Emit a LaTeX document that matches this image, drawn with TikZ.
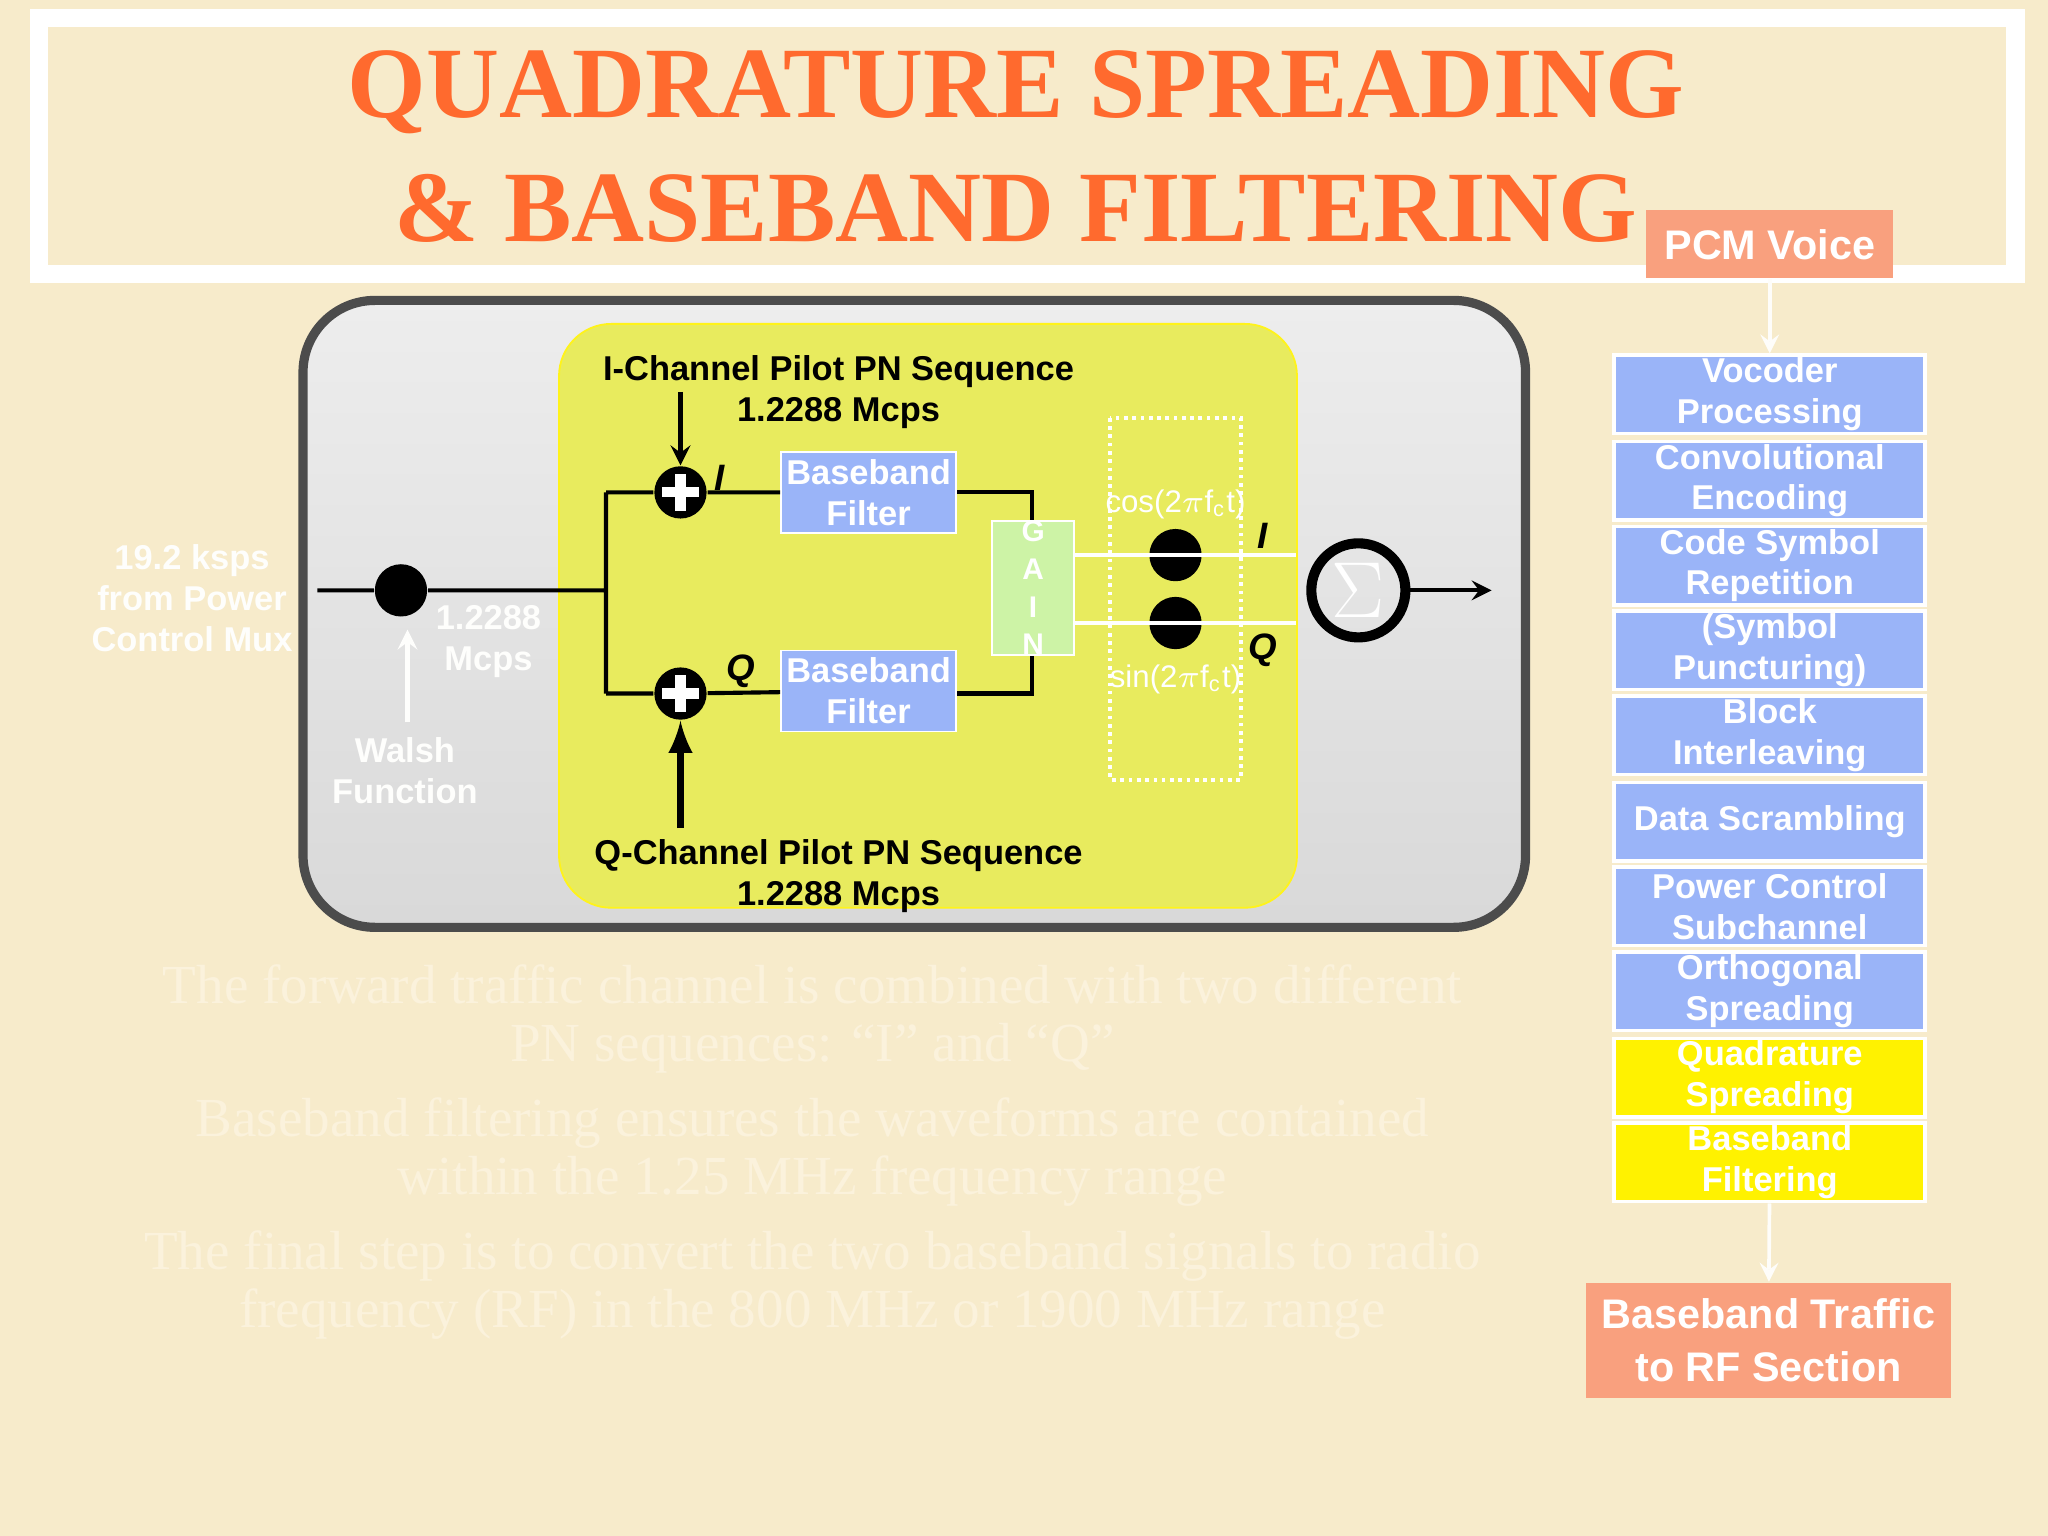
\documentclass[tikz,border=0pt]{standalone}
\usepackage{fontspec}
\setmainfont{Liberation Sans}
\newfontfamily\serifx{Liberation Serif}
\definecolor{bg}{HTML}{F7EBCB}
\definecolor{ttl}{HTML}{FF6A2E}
\definecolor{blu}{HTML}{9AB4F8}
\definecolor{salm}{HTML}{F9A07E}
\definecolor{ylw}{HTML}{E8EB5E}
\definecolor{gn}{HTML}{CDF3A6}
\definecolor{faint}{HTML}{FBF2DC}
\begin{document}
\begin{tikzpicture}[x=0.01cm,y=-0.01cm,
 stk/.style={draw=white,line width=0.8pt,fill=blu,minimum width=2.38cm,minimum height=0.6cm,inner sep=0,font=\bfseries\fontsize{7.5}{8.9}\selectfont,text=white,align=center},
 sal/.style={fill=salm,inner sep=0,font=\bfseries\fontsize{9}{11.5}\selectfont,text=white,align=center},
 bf/.style={draw=white,fill=blu,minimum width=1.34cm,minimum height=0.62cm,inner sep=0,font=\bfseries\fontsize{7.5}{9}\selectfont,text=white,align=center},
 lbl/.style={font=\bfseries\fontsize{7.5}{9}\selectfont,align=center},
 wl/.style={font=\bfseries\fontsize{7.5}{9}\selectfont,align=center,text=white!95!bg},
 fz/.style={font=\serifx\fontsize{12}{12.5}\selectfont,text=faint,align=center},
 dot/.style={circle,fill=black,inner sep=0,minimum size=0.4cm},
 wire/.style={line width=0.9pt}]
\fill[bg] (0,0) rectangle (1568,1176);
\useasboundingbox (0,0) rectangle (1568,1176);
\draw[white,line width=4pt] (30,14) rectangle (1543,210);
\node[text=ttl,font=\serifx\bfseries\fontsize{22}{27}\selectfont,align=center] (title) at (778,112) {QUADRATURE SPREADING\\\& BASEBAND FILTERING};
% outer box
\draw[line width=2pt,draw=black!70,top color=white!93!black,bottom color=white!85!black,rounded corners=0.55cm] (232,230) rectangle (1168,710);
\fill[ylw,draw=yellow!90!white,rounded corners=0.4cm] (428,248) rectangle (993,695);
\node[lbl] (itxt) at (642,300) {I-Channel Pilot PN Sequence\\1.2288 Mcps};
\node[lbl] (qtxt) at (642,671) {Q-Channel Pilot PN Sequence\\1.2288 Mcps};
\node[bf] (bf1) at (665,377) {Baseband\\Filter};
\node[bf] (bf2) at (665,529) {Baseband\\Filter};
\node[draw=white,fill=gn,minimum width=0.63cm,minimum height=1cm,inner sep=0,text=white,font=\bfseries\fontsize{6.5}{8.2}\selectfont,align=center] (gain) at (791,450) {G\\A\\I\\N};
\draw[white,densely dotted,line width=0.8pt] (850,320) rectangle (950,597);
\node[dot] (inp) at (307,452) {};
\coordinate (st) at (243,452);
\coordinate (sp) at (464,452);
\coordinate (ia) at (464,377);
\coordinate (qa) at (464,531);
\node[circle,fill=black,inner sep=0,minimum size=0.4cm] (add1) at (521,377) {};
\node[circle,fill=black,inner sep=0,minimum size=0.4cm] (add2) at (521,531) {};
\foreach \a in {add1,add2}{\draw[white,line width=2.2pt] ([xshift=-0.14cm]\a.center)--([xshift=0.14cm]\a.center) ([yshift=-0.14cm]\a.center)--([yshift=0.14cm]\a.center);}
\draw[wire] (st)--(inp) (inp)--(sp) (ia)--(qa) (ia)--(add1) (qa)--(add2) (add1)--(bf1) (add2)--(bf2);
\coordinate (c1) at (790,377); \coordinate (c2) at (790,531);
\draw[wire] (bf1.east|-c1)--(c1)--(gain.north-|c1) (bf2.east|-c2)--(c2)--(gain.south-|c2);
\node[dot] (d1) at (900,425) {};
\node[dot] (d2) at (900,477) {};
\coordinate (e1) at (992,425); \coordinate (e2) at (992,477);
\draw[white,line width=0.8pt] (gain.east|-d1)--(e1) (gain.east|-d2)--(e2);
\node[text=white,font=\fontsize{6.8}{8}\selectfont] (cos) at (900,386) {cos(2$\pi$f$_{\rm c}$t)};
\node[text=white,font=\fontsize{6.8}{8}\selectfont] (sin) at (900,520) {sin(2$\pi$f$_{\rm c}$t)};
\node[font=\bfseries\itshape\fontsize{8}{9}\selectfont] (il) at (967,410) {I};
\node[font=\bfseries\itshape\fontsize{8}{9}\selectfont] (ql) at (967,498) {Q};
\node[font=\bfseries\itshape\fontsize{8}{9}\selectfont] (il2) at (551,366) {I};
\node[font=\bfseries\itshape\fontsize{8}{9}\selectfont] (ql2) at (567,514) {Q};
\node[circle,draw=black,line width=2.2pt,minimum size=0.72cm,inner sep=0,text=white,font=\fontsize{16}{16}\selectfont] (sum) at (1040,452) {$\Sigma$};
\coordinate (out) at (1142,452);
\draw[wire,-stealth] (sum)--(out);
\coordinate (pt) at (521,300);
\coordinate (pb) at (521,634);
\draw[wire,-stealth] (pt)--(add1);
\draw[line width=1.4pt,-latex] (pb)--(add2);
\node[wl] (ws) at (310,590) {Walsh\\Function};
\coordinate (wtop) at (312,553);
\coordinate (wend) at (312,482);
\draw[white!95!bg,line width=0.9pt,-stealth] (wtop)--(wend);
\node[wl] (mc) at (374,491) {1.2288\\Mcps};
\node[wl] (src) at (147,458) {19.2 ksps\\from Power\\Control Mux};
% right stack
\node[sal,minimum width=1.89cm,minimum height=0.52cm] (pcm) at (1355,187) {PCM Voice};
\node[stk] (s1) at (1355,302) {Vocoder\\Processing};
\node[stk] (s2) at (1355,368) {Convolutional\\Encoding};
\node[stk] (s3) at (1355,433) {Code Symbol\\Repetition};
\node[stk] (s4) at (1355,498) {(Symbol\\Puncturing)};
\node[stk] (s5) at (1355,563) {Block\\Interleaving};
\node[stk] (s6) at (1355,629) {Data Scrambling};
\node[stk] (s7) at (1355,694) {Power Control\\Subchannel};
\node[stk] (s8) at (1355,759) {Orthogonal\\Spreading};
\node[stk,fill=yellow] (s9) at (1355,825) {Quadrature\\Spreading};
\node[stk,fill=yellow] (s10) at (1355,890) {Baseband\\Filtering};
\node[sal,minimum width=2.79cm,minimum height=0.88cm] (rf) at (1354,1026) {Baseband Traffic\\to RF Section};
\draw[white!90!bg,line width=0.8pt,-stealth] (pcm)--(s1);
\draw[white!90!bg,line width=0.8pt,-stealth] (s10)--(rf);
% faint text
\node[fz] (p1) at (622,780) {The forward traffic channel is combined with two different\\PN sequences: “I” and “Q”};
\node[fz] (p2) at (622,882) {Baseband filtering ensures the waveforms are contained\\within the 1.25 MHz  frequency range};
\node[fz] (p3) at (622,984) {The final step is to convert the two baseband signals to radio\\frequency (RF) in the 800 MHz or 1900 MHz range};
\end{tikzpicture}
\end{document}
